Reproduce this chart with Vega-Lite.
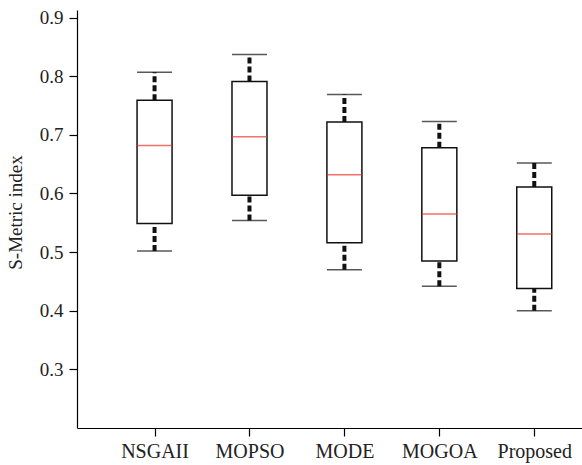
{
  "$schema": "https://vega.github.io/schema/vega-lite/v6.json",
  "autosize": "none",
  "width": 505,
  "height": 418,
  "padding": {"left": 77, "top": 10, "right": 0, "bottom": 37},
  "background": "white",
  "config": {
    "view": {"stroke": null},
    "axis": {
      "labelFont": "Liberation Serif",
      "titleFont": "Liberation Serif",
      "labelColor": "#222",
      "titleColor": "#222",
      "domainColor": "#000",
      "tickColor": "#000",
      "domainWidth": 1.2,
      "tickWidth": 1.2,
      "grid": false
    }
  },
  "data": {
    "values": [
      {"method": "NSGAII", "min": 0.502, "q1": 0.549, "median": 0.682, "q3": 0.759, "max": 0.807},
      {"method": "MOPSO", "min": 0.554, "q1": 0.597, "median": 0.697, "q3": 0.791, "max": 0.837},
      {"method": "MODE", "min": 0.470, "q1": 0.516, "median": 0.632, "q3": 0.722, "max": 0.769},
      {"method": "MOGOA", "min": 0.442, "q1": 0.485, "median": 0.565, "q3": 0.678, "max": 0.723},
      {"method": "Proposed", "min": 0.400, "q1": 0.438, "median": 0.531, "q3": 0.611, "max": 0.652}
    ]
  },
  "encoding": {
    "x": {
      "field": "method",
      "type": "nominal",
      "sort": null,
      "scale": {"type": "point", "padding": 0.66, "align": 0.619},
      "axis": {"title": null, "labelAngle": 0, "labelFontSize": 20, "tickSize": 8, "labelPadding": 5}
    }
  },
  "layer": [
    {
      "mark": {"type": "rule", "strokeWidth": 4, "strokeDash": [6, 3], "color": "#111"},
      "encoding": {
        "y": {
          "field": "q3",
          "type": "quantitative",
          "scale": {"domain": [0.2, 0.913], "nice": false, "zero": false},
          "axis": {
            "title": "S-Metric index",
            "titleFontSize": 19,
            "titleFontWeight": "normal",
            "labelFontSize": 19,
            "values": [0.3, 0.4, 0.5, 0.6, 0.7, 0.8, 0.9],
            "format": ".1f",
            "tickSize": 8,
            "labelPadding": 6,
            "titlePadding": 14,
            "titleY": 202
          }
        },
        "y2": {"field": "max"}
      }
    },
    {
      "mark": {"type": "rule", "strokeWidth": 4, "strokeDash": [6, 3], "color": "#111"},
      "encoding": {
        "y": {"field": "min", "type": "quantitative"},
        "y2": {"field": "q1"}
      }
    },
    {
      "mark": {"type": "bar", "width": 35, "fill": "white", "stroke": "#111", "strokeWidth": 1.5},
      "encoding": {
        "y": {"field": "q1", "type": "quantitative"},
        "y2": {"field": "q3"}
      }
    },
    {
      "mark": {"type": "tick", "size": 35, "thickness": 1.5, "color": "#e8352a", "orient": "horizontal"},
      "encoding": {
        "y": {"field": "median", "type": "quantitative"}
      }
    },
    {
      "mark": {"type": "tick", "size": 35, "thickness": 1.5, "color": "#111", "orient": "horizontal"},
      "encoding": {
        "y": {"field": "max", "type": "quantitative"}
      }
    },
    {
      "mark": {"type": "tick", "size": 35, "thickness": 1.5, "color": "#111", "orient": "horizontal"},
      "encoding": {
        "y": {"field": "min", "type": "quantitative"}
      }
    }
  ]
}
